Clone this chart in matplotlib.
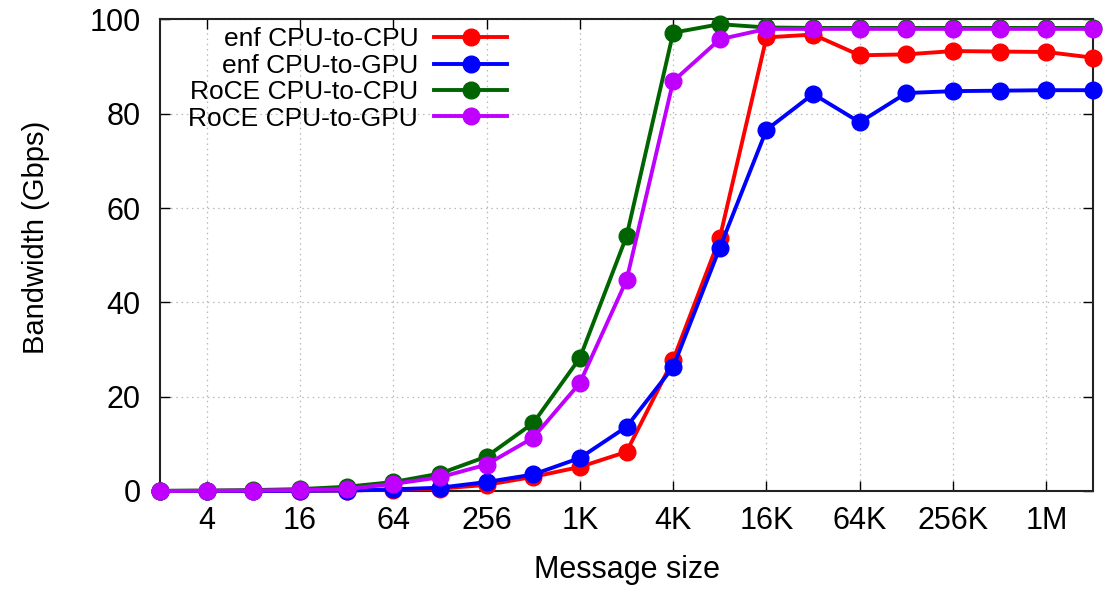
import matplotlib
matplotlib.use("Agg")
import matplotlib.pyplot as plt

sizes = [2**k for k in range(1, 22)]
tick_vals = [4, 16, 64, 256, 1024, 4096, 16384, 65536, 262144, 1048576]
tick_labels = ["4", "16", "64", "256", "1K", "4K", "16K", "64K", "256K", "1M"]

enf_c2c = [0, 0, 0, 0.05, 0.1, 0.3, 0.5, 1.3, 3.0, 5.1, 8.3, 27.8, 53.7, 96.2, 96.8, 92.4, 92.6, 93.3, 93.2, 93.1, 91.9]
enf_c2g = [0, 0, 0, 0.05, 0.1, 0.35, 0.7, 1.9, 3.5, 7.0, 13.6, 26.3, 51.6, 76.6, 84.2, 78.2, 84.4, 84.8, 84.9, 85.0, 85.0]
roce_c2c = [0.05, 0.1, 0.2, 0.4, 0.9, 1.9, 3.7, 7.3, 14.4, 28.2, 54.0, 97.2, 99.0, 98.3, 98.2, 98.2, 98.2, 98.2, 98.2, 98.2, 98.2]
roce_c2g = [0.0, 0.05, 0.1, 0.2, 0.4, 1.5, 2.9, 5.6, 11.3, 22.9, 44.7, 86.9, 95.8, 98.0, 98.0, 98.0, 98.0, 98.0, 98.0, 98.0, 98.0]

series = [
    ("enf CPU-to-CPU", enf_c2c, "#ff0000"),
    ("enf CPU-to-GPU", enf_c2g, "#0000ff"),
    ("RoCE CPU-to-CPU", roce_c2c, "#006400"),
    ("RoCE CPU-to-GPU", roce_c2g, "#c000ff"),
]

plt.rcParams['font.family'] = ['Liberation Sans', 'DejaVu Sans']
fig = plt.figure(figsize=(11.07, 5.90), dpi=100)
ax = fig.add_axes([0.1445, 0.1678, 0.9874 - 0.1445, 0.967 - 0.1678])

for label, vals, color in series:
    ax.plot(sizes, vals, color=color, lw=2.8, marker='o', markersize=12,
            label=label, clip_on=False, zorder=3)

ax.set_xscale('log', base=2)
ax.set_xlim(2, 2**21)
ax.set_ylim(0, 100)
ax.set_xticks(tick_vals)
ax.set_xticklabels(tick_labels)
ax.minorticks_off()
ax.set_yticks([0, 20, 40, 60, 80, 100])
ax.tick_params(direction='in', length=7, width=1, top=True, right=True,
               labelsize=22)
ax.tick_params(axis='x', pad=11)
ax.tick_params(axis='y', pad=14)
ax.grid(True, color='#b8b8b8', linestyle=(0, (1.2, 3)), lw=0.9)
for s in ax.spines.values():
    s.set_linewidth(1.5)
    s.set_color('#222222')

ax.set_xlabel("Message size", fontsize=22)
ax.set_ylabel("Bandwidth (Gbps)", fontsize=21)
ax.xaxis.set_label_coords(0.5, -0.136)
ax.yaxis.set_label_coords(-0.118, 0.537)

leg = ax.legend(loc='upper right', markerfirst=False, frameon=False,
                fontsize=19, handlelength=2.77, labelspacing=0.09,
                handletextpad=0.6, borderaxespad=0.0, borderpad=0.0,
                bbox_to_anchor=(0.372, 0.983))

fig.savefig("out.png", dpi=100)
